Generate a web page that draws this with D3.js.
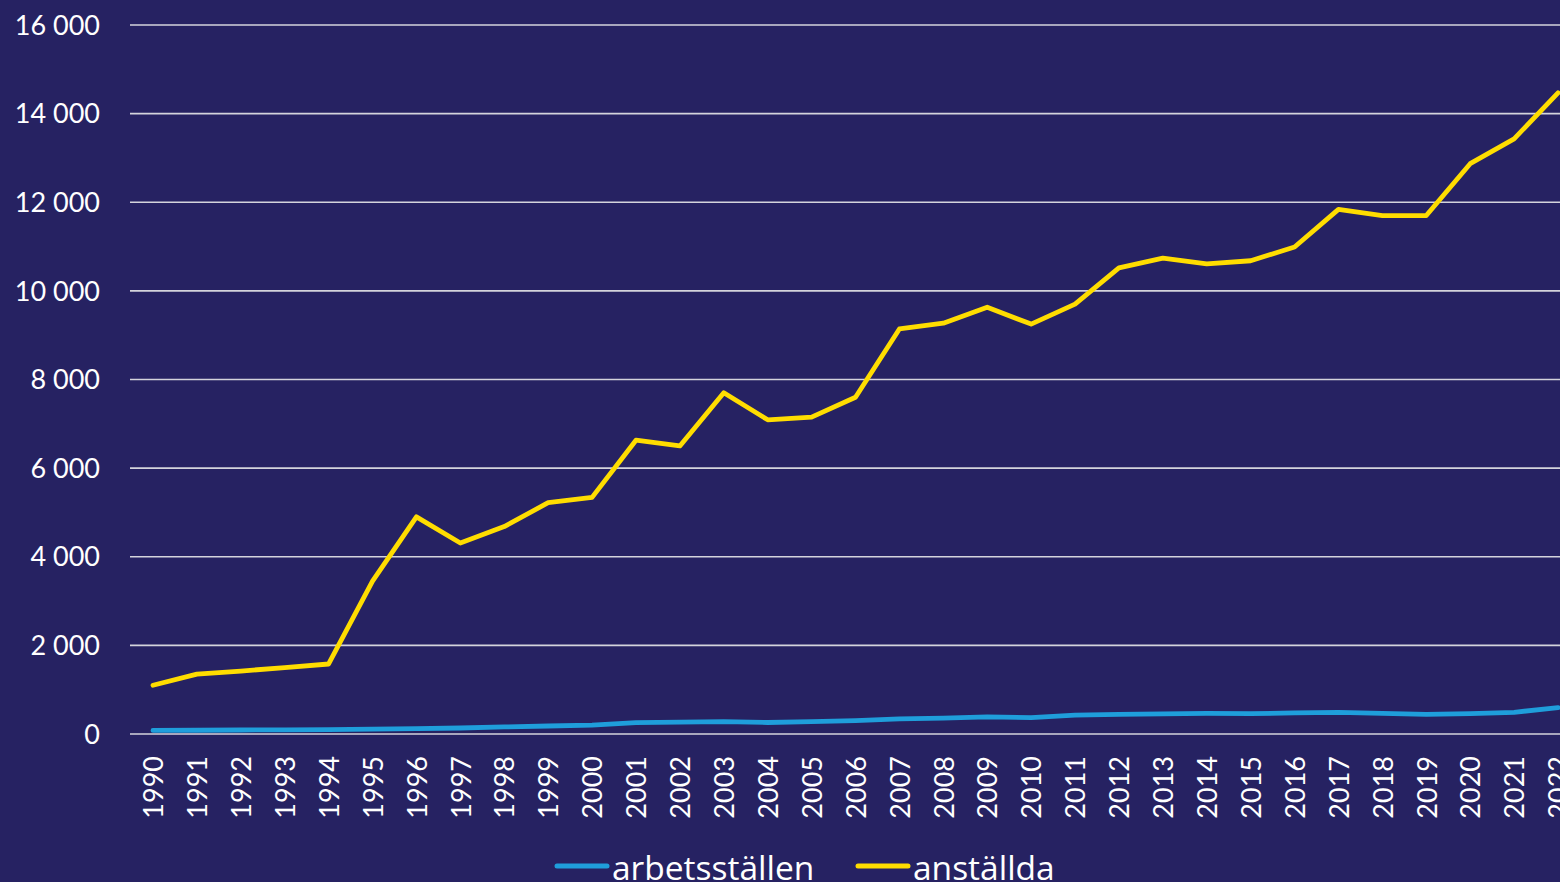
<!DOCTYPE html>
<html>
<head>
<meta charset="utf-8">
<script src="https://cdn.jsdelivr.net/npm/d3@7"></script>
<style>
  html, body { margin: 0; padding: 0; background: #262262; }
  svg { display: block; }
  text { font-family: Lato, "Noto Sans", sans-serif; fill: #ffffff; }
  .legend text { font-family: "Open Sans", "Noto Sans", sans-serif; }
</style>
</head>
<body>
<svg id="chart" width="1560" height="882"></svg>
<script>
// Years on the category axis
const years = [1990,1991,1992,1993,1994,1995,1996,1997,1998,1999,2000,2001,2002,2003,2004,2005,2006,2007,2008,2009,2010,2011,2012,2013,2014,2015,2016,2017,2018,2019,2020,2021,2022];

// Number of workplaces
const arbetsstallen = [80,85,90,95,100,110,120,135,160,180,200,255,270,280,260,280,300,340,360,385,370,425,445,455,465,460,475,490,465,445,460,490,595];

// Number of employees
const anstallda = [1100,1350,1420,1500,1580,3450,4900,4310,4680,5220,5340,6630,6500,7700,7090,7150,7600,9140,9270,9630,9250,9700,10520,10740,10610,10680,10990,11840,11700,11700,12870,13430,14470];

const yTicks = [0,2000,4000,6000,8000,10000,12000,14000,16000];

const seriesNames = ["arbetsställen", "anställda"];
const seriesColors = ["#1f9edb", "#ffdd00"];

const svg = d3.select("#chart");
const W = 1560, H = 882;
svg.append("rect").attr("width", W).attr("height", H).attr("fill", "#262262");

const x = d3.scalePoint().domain(years).range([153, 1558]);
const y = d3.scaleLinear().domain([0, 16000]).range([734, 25]);

const fmt = v => d3.format(",")(v).replace(/,/g, " ");

// Horizontal gridlines
const grid = svg.append("g");
grid.selectAll("line").data(yTicks).join("line")
  .attr("x1", 130).attr("x2", W)
  .attr("y1", d => y(d)).attr("y2", d => y(d))
  .attr("stroke", "#d4d4dc").attr("stroke-width", 1.6);

// Y axis labels
const yAxis = svg.append("g").attr("transform", "translate(100,0)")
  .call(d3.axisLeft(y).tickValues(yTicks).tickSize(0).tickPadding(0).tickFormat(fmt));
yAxis.select(".domain").remove();
yAxis.selectAll("text").style("font-size", "27px").attr("fill", "#fff").attr("dy", "0.34em");

// X axis labels (rotated)
const xAxis = svg.append("g").attr("transform", "translate(0,734)")
  .call(d3.axisBottom(x).tickSize(0).tickFormat(d3.format("d")));
xAxis.select(".domain").remove();
xAxis.selectAll("text")
  .style("font-size", "27px").attr("fill", "#fff")
  .attr("text-anchor", "end")
  .attr("transform", "rotate(-90)")
  .attr("x", -22).attr("y", 0).attr("dy", "0.36em");

// Lines
const line = d3.line().x((d, i) => x(years[i])).y(d => y(d));
[arbetsstallen, anstallda].forEach((vals, k) => {
  svg.append("path").datum(vals)
    .attr("d", line)
    .attr("fill", "none")
    .attr("stroke", seriesColors[k])
    .attr("stroke-width", 4.8)
    .attr("stroke-linejoin", "round")
    .attr("stroke-linecap", "round");
});

// Legend
const legend = svg.append("g").attr("class", "legend");
const legendItems = [
  { x: 557, name: seriesNames[0], color: seriesColors[0] },
  { x: 858, name: seriesNames[1], color: seriesColors[1] }
];
legendItems.forEach(it => {
  legend.append("line")
    .attr("x1", it.x).attr("x2", it.x + 50)
    .attr("y1", 866).attr("y2", 866)
    .attr("stroke", it.color).attr("stroke-width", 5).attr("stroke-linecap", "round");
  legend.append("text")
    .attr("x", it.x + 55).attr("y", 880)
    .style("font-size", "33.5px")
    .text(it.name);
});
</script>
</body>
</html>
